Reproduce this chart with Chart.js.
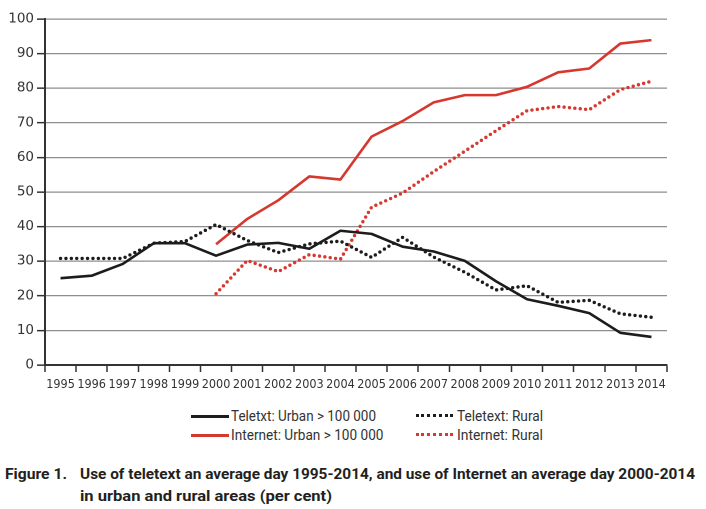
<!DOCTYPE html>
<html>
<head>
<meta charset="utf-8">
<script src="https://cdn.jsdelivr.net/npm/chart.js@4.4.1/dist/chart.umd.min.js"></script>
<style>
  html, body { margin: 0; padding: 0; background: #fff; }
  #wrap { position: relative; width: 706px; height: 509px; overflow: hidden; background: #fff; }
  #chartBox { position: absolute; left: 0; top: 0; width: 706px; height: 400px; }
  .lt { position: absolute; display: inline-block; white-space: nowrap; font-family: "Roboto", sans-serif; font-size: 14px; line-height: 20px; height: 20px; color: #333; transform-origin: 0 50%; }
  .sw { position: absolute; height: 0; }
  .cap { position: absolute; display: inline-block; white-space: nowrap; font-family: "Roboto", sans-serif; font-weight: bold; font-size: 15.5px; line-height: 22px; color: #231f20; transform-origin: 0 50%; }
</style>
</head>
<body>
<div id="wrap">
  <div id="chartBox"><canvas id="c" width="706" height="400"></canvas></div>
  <div id="legend"></div>
  <div id="caption"></div>
</div>
<script>
const years = ["1995","1996","1997","1998","1999","2000","2001","2002","2003","2004","2005","2006","2007","2008","2009","2010","2011","2012","2013","2014"];
const yTicks = [0,10,20,30,40,50,60,70,80,90,100];
const teletextUrban = [25.1, 25.8, 29.2, 35.2, 35.2, 31.6, 34.8, 35.3, 33.6, 38.8, 37.9, 34.2, 32.8, 30.1, 24.2, 19.0, 17.1, 15.0, 9.3, 8.1];
const teletextRural = [30.8, 30.8, 30.8, 35.2, 35.7, 40.6, 36.0, 32.5, 35.0, 35.8, 31.1, 36.9, 31.2, 26.8, 21.7, 22.9, 18.1, 18.7, 14.8, 13.8];
const internetUrban = [null, null, null, null, null, 34.9, 42.2, 47.6, 54.5, 53.6, 66.0, 70.5, 75.9, 78.0, 78.0, 80.4, 84.6, 85.7, 92.9, 93.9];
const internetRural = [null, null, null, null, null, 20.6, 30.2, 27.0, 31.9, 30.6, 45.6, 49.7, 55.9, 61.8, 67.7, 73.5, 74.7, 73.8, 79.6, 82.0];
const seriesLabels = ["Teletxt: Urban > 100 000", "Teletext: Rural", "Internet: Urban > 100 000", "Internet: Rural"];
const captionFigure = "Figure 1.";
const captionLines = ["Use of teletext an average day 1995-2014, and use of Internet an average day 2000-2014", "in urban and rural areas (per cent)"];

const BLACK = "#1c1c1c";
const RED = "#d6372f";

function solid(label, data, color) {
  return { label, data, borderColor: color, backgroundColor: color, borderWidth: 2.6, pointRadius: 0, tension: 0, spanGaps: false, borderCapStyle: "butt", borderJoinStyle: "round" };
}
function dotted(label, data, color) {
  return { label, data, borderColor: color, backgroundColor: color, borderWidth: 3.4, pointRadius: 0, tension: 0, spanGaps: false, borderDash: [0, 5.4], borderCapStyle: "round", borderJoinStyle: "round" };
}

const chart = new Chart(document.getElementById("c"), {
  type: "line",
  data: {
    labels: years,
    datasets: [
      solid(seriesLabels[0], teletextUrban, BLACK),
      dotted(seriesLabels[1], teletextRural, BLACK),
      solid(seriesLabels[2], internetUrban, RED),
      dotted(seriesLabels[3], internetRural, RED)
    ]
  },
  options: {
    responsive: false,
    animation: false,
    devicePixelRatio: 2,
    layout: { padding: { left: 0, right: 39, top: 19, bottom: 0 } },
    plugins: { legend: { display: false }, tooltip: { enabled: false } },
    scales: {
      x: {
        offset: true,
        grid: { display: true, offset: true, drawOnChartArea: false, drawTicks: true, tickLength: 7, tickColor: "#333", tickWidth: 1.5 },
        border: { display: true, color: "#333", width: 2 },
        ticks: { color: "#333", font: { family: "DejaVu Sans Condensed, DejaVu Sans", size: 12.5 }, padding: 5, maxRotation: 0, autoSkip: false },
        afterFit: s => { s.height = 35; }
      },
      y: {
        min: 0, max: 100,
        afterBuildTicks: s => { s.ticks = yTicks.map(v => ({ value: v })); },
        grid: { color: c => c.tick && c.tick.value === 0 ? "#333" : "#8e8e8e", lineWidth: 1.3, drawTicks: true, tickLength: 8, tickColor: "#333", tickWidth: 1.5 },
        border: { display: true, color: "#333", width: 2 },
        ticks: { color: "#333", font: { family: "DejaVu Sans", size: 13.5 }, padding: 3 },
        afterFit: s => { s.width = 45; }
      }
    }
  }
});

function fit(el, w) {
  const natural = el.getBoundingClientRect().width;
  if (natural > 0) el.style.transform = "scaleX(" + (w / natural) + ")";
}

// HTML legend built from dataset definitions
const legend = document.getElementById("legend");
const L = [
  { sx: 191, sw: 37.5, tx: 230.5, tw: 145, cy: 416 },
  { sx: 415.5, sw: 37.5, tx: 457, tw: 86, cy: 416 },
  { sx: 191, sw: 37.5, tx: 230.5, tw: 152.5, cy: 435 },
  { sx: 415.5, sw: 37.5, tx: 457, tw: 86, cy: 435 }
];
chart.data.datasets.forEach((ds, i) => {
  const p = L[i];
  const sw = document.createElement("div");
  sw.className = "sw";
  sw.style.left = p.sx + "px";
  sw.style.width = p.sw + "px";
  if (ds.borderDash) {
    sw.style.top = (p.cy - 1.6) + "px";
    sw.style.borderTop = "3.2px dotted " + ds.borderColor;
  } else {
    sw.style.top = (p.cy - 1.5) + "px";
    sw.style.borderTop = "3px solid " + ds.borderColor;
  }
  legend.appendChild(sw);
  const tx = document.createElement("div");
  tx.className = "lt";
  tx.textContent = ds.label;
  tx.style.left = p.tx + "px";
  tx.style.top = (p.cy - 10) + "px";
  legend.appendChild(tx);
  fit(tx, p.tw);
});

// caption
const cap = document.getElementById("caption");
function capLine(text, x, cy, w) {
  const d = document.createElement("div");
  d.className = "cap";
  d.textContent = text;
  d.style.left = x + "px";
  d.style.top = (cy - 11) + "px";
  cap.appendChild(d);
  fit(d, w);
}
capLine(captionFigure, 5, 474, 62);
capLine(captionLines[0], 80, 474, 615);
capLine(captionLines[1], 80, 496, 252);
</script>
</body>
</html>
